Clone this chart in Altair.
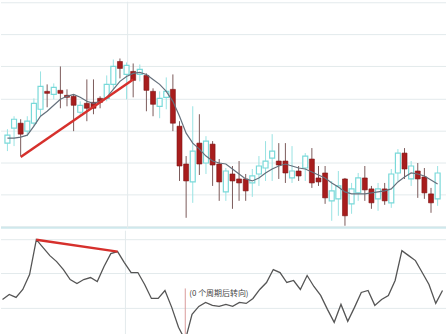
import altair as alt
import pandas as pd

# Daily candles, bar 0 is the leftmost one
opens  = [86, 101, 106, 98, 106, 120, 138, 135, 139, 134, 133, 117, 126, 127, 131, 131, 145, 168, 155, 158,
          155, 154, 138, 123, 132, 140, 103, 65, 47, 86, 66, 85, 65, 37, 55, 50, 50, 46, 55, 61,
          71, 68, 68, 51, 58, 61, 70, 51, 56, 28, 30, 50, 25, 36, 51, 40, 30, 40, 26, 56,
          76, 50, 58, 52, 35, 30]
highs  = [100, 113, 110, 113, 131, 158, 145, 146, 163, 140, 135, 128, 150, 150, 133, 154, 170, 171, 167, 166,
          165, 156, 141, 138, 152, 155, 108, 73, 123, 115, 93, 88, 70, 61, 63, 68, 55, 60, 73, 88,
          95, 86, 86, 83, 63, 76, 81, 63, 63, 48, 58, 51, 46, 56, 63, 43, 46, 46, 60, 80,
          81, 68, 66, 61, 41, 63]
lows   = [78, 83, 73, 93, 103, 113, 122, 130, 121, 123, 98, 113, 108, 115, 121, 128, 140, 151, 130, 132,
          148, 118, 113, 111, 120, 98, 48, 11, 26, 54, 55, 43, 28, 28, 20, 28, 28, 32, 43, 48,
          48, 50, 46, 46, 48, 48, 41, 43, 25, 8, 13, 3, 15, 28, 28, 20, 18, 24, 21, 48,
          50, 43, 31, 30, 16, 23]
closes = [94, 110, 95, 108, 126, 143, 136, 142, 136, 132, 124, 124, 121, 121, 127, 145, 163, 161, 164, 149,
          160, 139, 125, 131, 138, 106, 63, 48, 78, 65, 88, 64, 47, 58, 48, 46, 38, 53, 63, 68,
          78, 64, 56, 58, 53, 73, 46, 47, 31, 38, 43, 13, 40, 51, 39, 26, 40, 28, 55, 76,
          60, 63, 50, 36, 26, 56]

# Moving average drawn over the candles
ma_values = [91, 91, 92, 94, 103, 113, 118, 124, 130, 133, 135, 132, 128, 126, 128, 132, 140, 148, 153, 156,
             157, 155, 150, 145, 138, 128, 113, 96, 86, 80, 73, 68, 66, 65, 60, 55, 50, 48, 51, 56,
             60, 63, 65, 63, 61, 60, 57, 54, 51, 46, 42, 37, 35, 35, 35, 36, 37, 38, 40, 47,
             52, 56, 55, 53, 49, 45]

# Oscillator in the lower pane
osc_values = [37, 42, 39, 47, 62, 97, 89, 81, 75, 67, 57, 53, 57, 59, 55, 70, 83, 85, 74, 64,
              64, 52, 38, 38, 46, 29, 9, -4, 22, 30, 34, 31, 30, 32, 30, 34, 33, 38, 47, 54,
              67, 64, 54, 56, 47, 61, 50, 41, 27, 14, 32, 15, 29, 44, 46, 31, 37, 41, 56, 86,
              81, 76, 64, 52, 33, 46]

# Trend lines: (bar index, value) pairs
price_trend_idx = [2, 19]
price_trend_val = [72, 150]
osc_trend_idx = [5, 17]
osc_trend_val = [97, 85]

# Turning-point marker in the oscillator pane
marker_idx = 27
marker_top = 48
marker_label = "(0 个周期后转向)"

price_grid = [2, 34, 66, 98, 130, 163, 195, 227]
osc_grid = [28, 63, 97]
vertical_grid = [18.16]

W = 447
TOP_H = 228
BOT_H = 106

RED = "#a81d1d"
RED_EDGE = "#7d1515"
RED_WICK = "#7b5a5a"
CYAN = "#79d9d9"
CYAN_WICK = "#98e3e3"
GRID = "#e3eaec"

n = len(opens)
candles = pd.DataFrame({
    "i": list(range(n)),
    "open": opens, "high": highs, "low": lows, "close": closes,
})
candles["up"] = candles["close"] >= candles["open"]
candles["body_lo"] = candles[["open", "close"]].min(axis=1)
candles["body_hi"] = candles[["open", "close"]].max(axis=1)

ma_df = pd.DataFrame({"i": list(range(n)), "v": ma_values})
osc_df = pd.DataFrame({"i": list(range(n)), "v": osc_values})

x_scale = alt.Scale(domain=[-0.2206, 65.515], nice=False, zero=False)
y_price = alt.Scale(domain=[0, TOP_H], nice=False, zero=False)
y_osc = alt.Scale(domain=[0, BOT_H], nice=False, zero=False)

X = lambda f: alt.X(f, type="quantitative", scale=x_scale, axis=None)

# ---- price pane ----
p_grid = alt.Chart(pd.DataFrame({"v": price_grid})).mark_rule(
    color=GRID, strokeWidth=1
).encode(y=alt.Y("v:Q", scale=y_price, axis=None))

p_border = alt.Chart(pd.DataFrame({"v": [1]})).mark_rule(
    color="#cfe8ec", strokeWidth=2
).encode(y=alt.Y("v:Q", scale=y_price, axis=None))

p_vgrid = alt.Chart(pd.DataFrame({"i": vertical_grid})).mark_rule(
    color=GRID, strokeWidth=1
).encode(x=X("i"))

wicks = alt.Chart(candles).mark_rule(strokeWidth=1).encode(
    x=X("i"),
    y=alt.Y("low:Q", scale=y_price, axis=None),
    y2="high:Q",
    color=alt.condition("datum.up", alt.value(CYAN_WICK), alt.value(RED_WICK)),
)

up_bodies = alt.Chart(candles).transform_filter("datum.up").mark_bar(
    size=5, fill="white", stroke=CYAN, strokeWidth=1.2
).encode(
    x=X("i"),
    y=alt.Y("body_lo:Q", scale=y_price, axis=None),
    y2="body_hi:Q",
)

down_bodies = alt.Chart(candles).transform_filter("!datum.up").mark_bar(
    size=5, fill=RED, stroke=RED_EDGE, strokeWidth=0.6
).encode(
    x=X("i"),
    y=alt.Y("body_lo:Q", scale=y_price, axis=None),
    y2="body_hi:Q",
)

ma_line = alt.Chart(ma_df).mark_line(color="#65707c", strokeWidth=1.2).encode(
    x=X("i"), y=alt.Y("v:Q", scale=y_price, axis=None)
)

p_trend = alt.Chart(pd.DataFrame({"i": price_trend_idx, "v": price_trend_val})).mark_line(
    color="#d6302c", strokeWidth=2.5
).encode(x=X("i"), y=alt.Y("v:Q", scale=y_price, axis=None))

top = alt.layer(p_grid, p_border, p_vgrid, wicks, up_bodies, down_bodies, ma_line, p_trend).properties(
    width=W, height=TOP_H
)

# ---- oscillator pane ----
o_grid = alt.Chart(pd.DataFrame({"v": osc_grid})).mark_rule(
    color=GRID, strokeWidth=1
).encode(y=alt.Y("v:Q", scale=y_osc, axis=None))

o_vgrid = alt.Chart(pd.DataFrame({"i": vertical_grid})).mark_rule(
    color=GRID, strokeWidth=1
).encode(x=X("i"))

marker = alt.Chart(pd.DataFrame({"i": [marker_idx], "v": [0], "v2": [marker_top]})).mark_rule(
    color="#d99a9a", strokeWidth=1
).encode(x=X("i"), y=alt.Y("v:Q", scale=y_osc, axis=None), y2="v2:Q")

marker_text = alt.Chart(pd.DataFrame({"i": [marker_idx], "v": [marker_top - 6], "t": [marker_label]})).mark_text(
    align="left", baseline="middle", dx=4, fontSize=8, color="#444444", font="Noto Sans CJK SC"
).encode(x=X("i"), y=alt.Y("v:Q", scale=y_osc, axis=None), text="t:N")

osc_line = alt.Chart(osc_df).mark_line(color="#555555", strokeWidth=1.3, clip=True).encode(
    x=X("i"), y=alt.Y("v:Q", scale=y_osc, axis=None)
)

o_trend = alt.Chart(pd.DataFrame({"i": osc_trend_idx, "v": osc_trend_val})).mark_line(
    color="#d6302c", strokeWidth=2.5
).encode(x=X("i"), y=alt.Y("v:Q", scale=y_osc, axis=None))

bottom = alt.layer(o_grid, o_vgrid, marker, osc_line, o_trend, marker_text).properties(
    width=W, height=BOT_H
)

chart = alt.vconcat(top, bottom, spacing=0).properties(
    padding=0, background="white"
).configure_view(stroke=None).configure_concat(spacing=0)

chart.save("out.html", embed_options={"renderer": "svg", "actions": False})
